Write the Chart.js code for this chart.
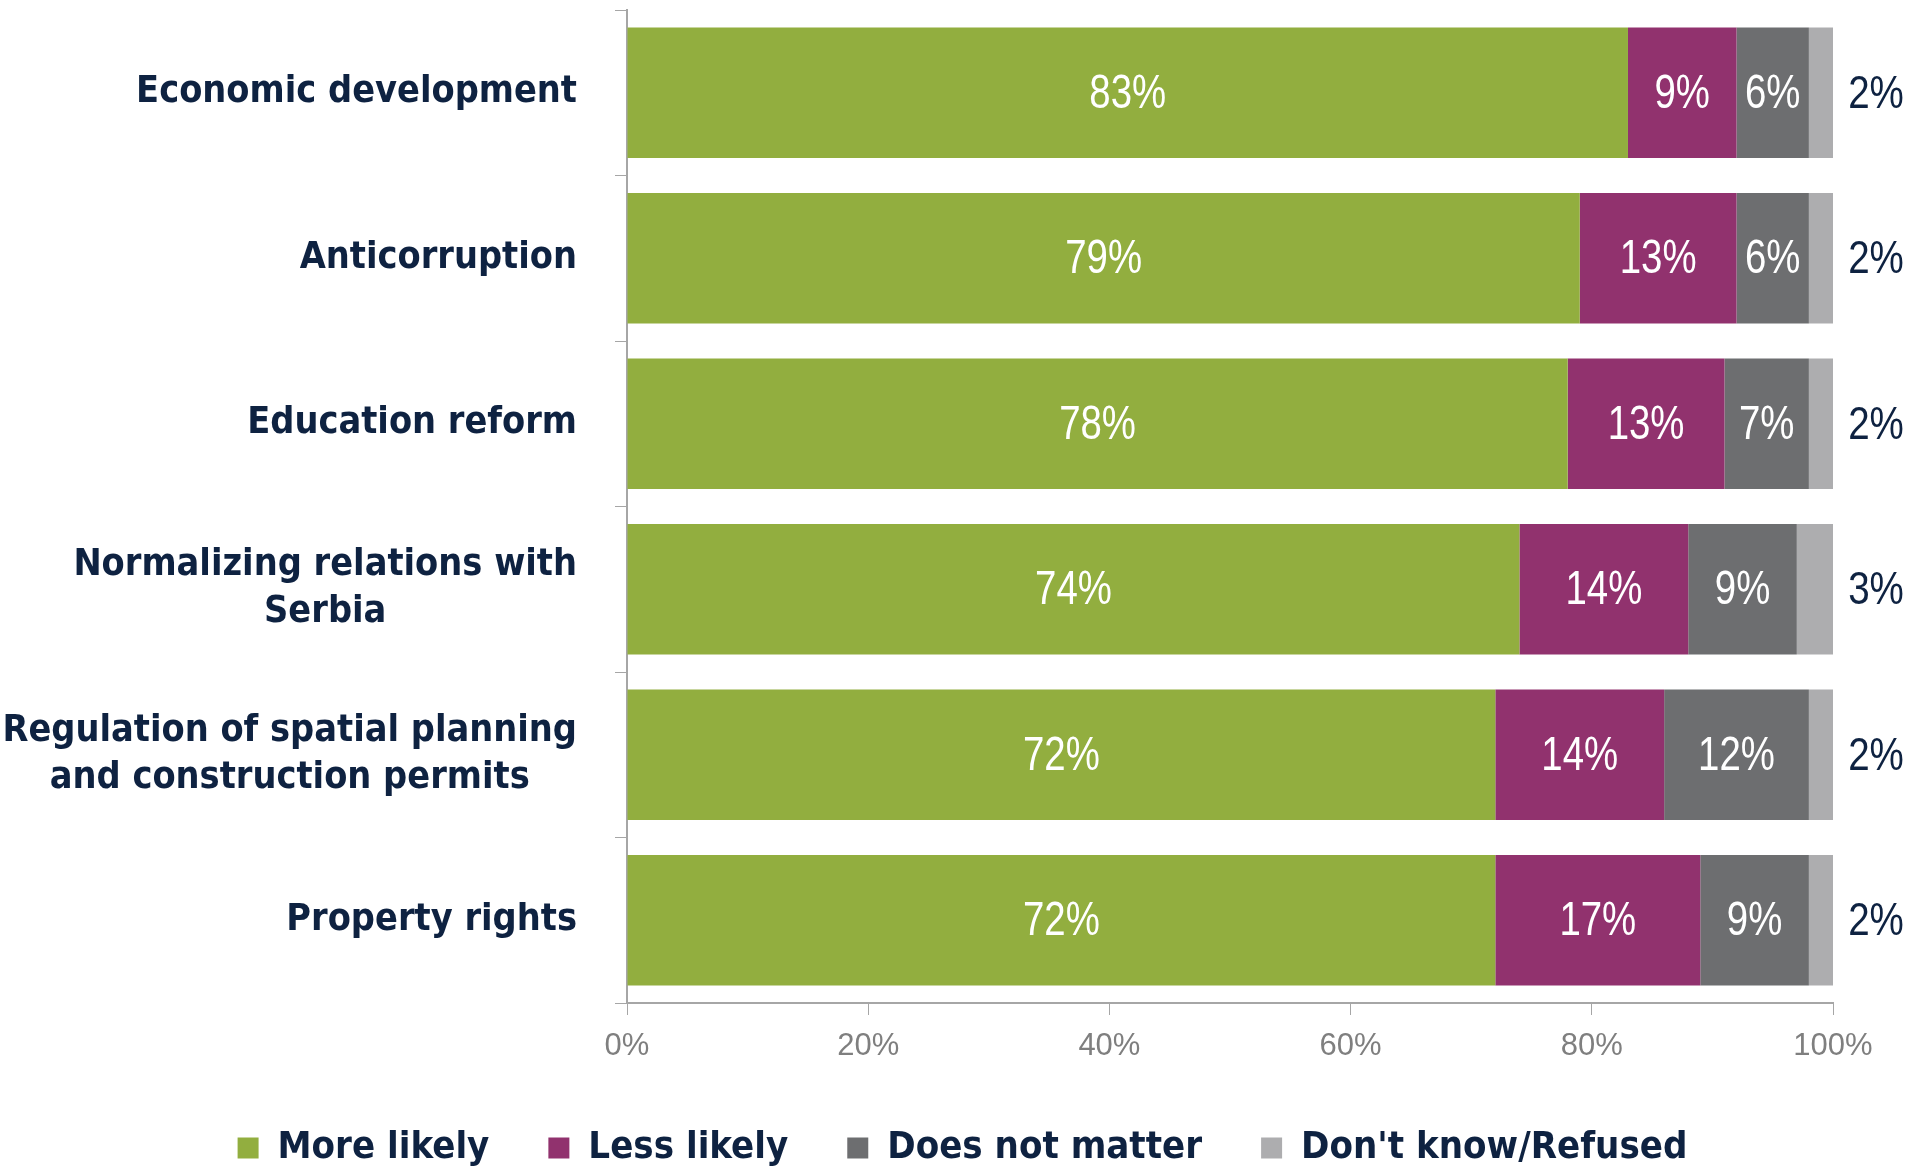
<!DOCTYPE html>
<html>
<head>
<meta charset="utf-8">
<script src="https://cdn.jsdelivr.net/npm/chart.js@4.4.1/dist/chart.umd.min.js"></script>
<style>
  html, body { margin: 0; padding: 0; background: #ffffff; }
  #wrap { width: 1925px; height: 1169px; position: relative; }
</style>
</head>
<body>
<div id="wrap"><canvas id="chart"></canvas></div>
<script>
const categories = [
  ["Economic development"],
  ["Anticorruption"],
  ["Education reform"],
  ["Normalizing relations with", "Serbia"],
  ["Regulation of spatial planning", "and construction permits"],
  ["Property rights"],
];
const seriesNames = ["More likely", "Less likely", "Does not matter", "Don't know/Refused"];
const moreLikely = [83, 79, 78, 74, 72, 72];
const lessLikely = [9, 13, 13, 14, 14, 17];
const doesNotMatter = [6, 6, 7, 9, 12, 9];
const dontKnow = [2, 2, 2, 3, 2, 2];
const xTicks = [0, 20, 40, 60, 80, 100];

const colors = ["#92ae3f", "#91326e", "#6d6e70", "#adadaf"];
const navy = "#0e2241";
const labelFont = "'DejaVu Sans Condensed', 'DejaVu Sans', sans-serif";
const numFont = "'Liberation Sans', Arial, sans-serif";

// category labels: block right-aligned, lines centred inside the block
const categoryLabels = {
  id: "categoryLabels",
  afterDraw(chart) {
    const { ctx } = chart;
    const y = chart.scales.y;
    const right = y.right - 50;
    const lineH = 47;
    ctx.save();
    ctx.font = "bold 37.5px " + labelFont;
    ctx.fillStyle = navy;
    ctx.textAlign = "center";
    ctx.textBaseline = "middle";
    categories.forEach((lines, i) => {
      const w = Math.max(...lines.map((l) => ctx.measureText(l).width));
      const cy = y.getPixelForValue(i);
      const top = cy - ((lines.length - 1) * lineH) / 2;
      lines.forEach((l, j) => ctx.fillText(l, right - w / 2, top + j * lineH));
    });
    ctx.restore();
  },
};

// narrow text, squeezed horizontally like the original font
function drawNarrow(ctx, text, x, y, sx) {
  ctx.save();
  ctx.translate(x, y);
  ctx.scale(sx, 1);
  ctx.fillText(text, 0, 0);
  ctx.restore();
}

const valueLabels = {
  id: "valueLabels",
  afterDatasetsDraw(chart) {
    const { ctx } = chart;
    ctx.save();
    ctx.textAlign = "center";
    ctx.textBaseline = "middle";
    chart.data.datasets.forEach((ds, di) => {
      const meta = chart.getDatasetMeta(di);
      meta.data.forEach((bar, i) => {
        const text = ds.data[i] + "%";
        if (di < 3) {
          ctx.fillStyle = "#ffffff";
          ctx.font = "48px " + numFont;
          drawNarrow(ctx, text, (bar.x + bar.base) / 2, bar.y + 2, 0.8);
        } else {
          ctx.fillStyle = navy;
          ctx.font = "47px " + numFont;
          drawNarrow(ctx, text, chart.scales.x.right + 43, bar.y + 2, 0.82);
        }
      });
    });
    ctx.restore();
  },
};

new Chart(document.getElementById("chart"), {
  type: "bar",
  data: {
    labels: categories.map((c) => c.join(" ")),
    datasets: [moreLikely, lessLikely, doesNotMatter, dontKnow].map((d, i) => ({
      label: seriesNames[i],
      data: d,
      backgroundColor: colors[i],
      borderWidth: 0,
      barPercentage: 0.79,
      categoryPercentage: 1,
    })),
  },
  options: {
    indexAxis: "y",
    responsive: true,
    maintainAspectRatio: false,
    animation: false,
    layout: { padding: { top: 10, right: 0, left: 0, bottom: 0 } },
    scales: {
      x: {
        stacked: true,
        min: 0,
        max: 100,
        afterBuildTicks: (scale) => {
          scale.ticks = xTicks.map((v) => ({ value: v }));
        },
        ticks: {
          padding: 13,
          color: "#7f7f7f",
          font: { family: numFont, size: 31 },
          callback: (v) => v + "%",
        },
        grid: { drawOnChartArea: false, drawTicks: true, tickLength: 12, color: "#a6a6a6" },
        border: { color: "#a6a6a6", width: 2 },
        afterFit: (scale) => {
          scale.height = 67;
        },
      },
      y: {
        stacked: true,
        ticks: { display: false },
        grid: { drawOnChartArea: false, drawTicks: true, tickLength: 12, color: "#a6a6a6", offset: true },
        border: { color: "#a6a6a6", width: 2 },
        afterFit: (scale) => {
          scale.width = 627;
        },
      },
      // empty right-hand strip that holds the outside "Don't know" labels
      yRight: {
        type: "category",
        position: "right",
        ticks: { display: false },
        grid: { display: false },
        border: { display: false },
        afterFit: (scale) => {
          scale.width = 92;
        },
      },
    },
    plugins: {
      legend: {
        position: "bottom",
        maxHeight: 99,
        labels: {
          boxWidth: 21,
          boxHeight: 21,
          padding: 59,
          color: navy,
          font: { family: labelFont, size: 38, weight: "bold" },
        },
      },
      tooltip: { enabled: false },
    },
  },
  plugins: [categoryLabels, valueLabels],
});
</script>
</body>
</html>
